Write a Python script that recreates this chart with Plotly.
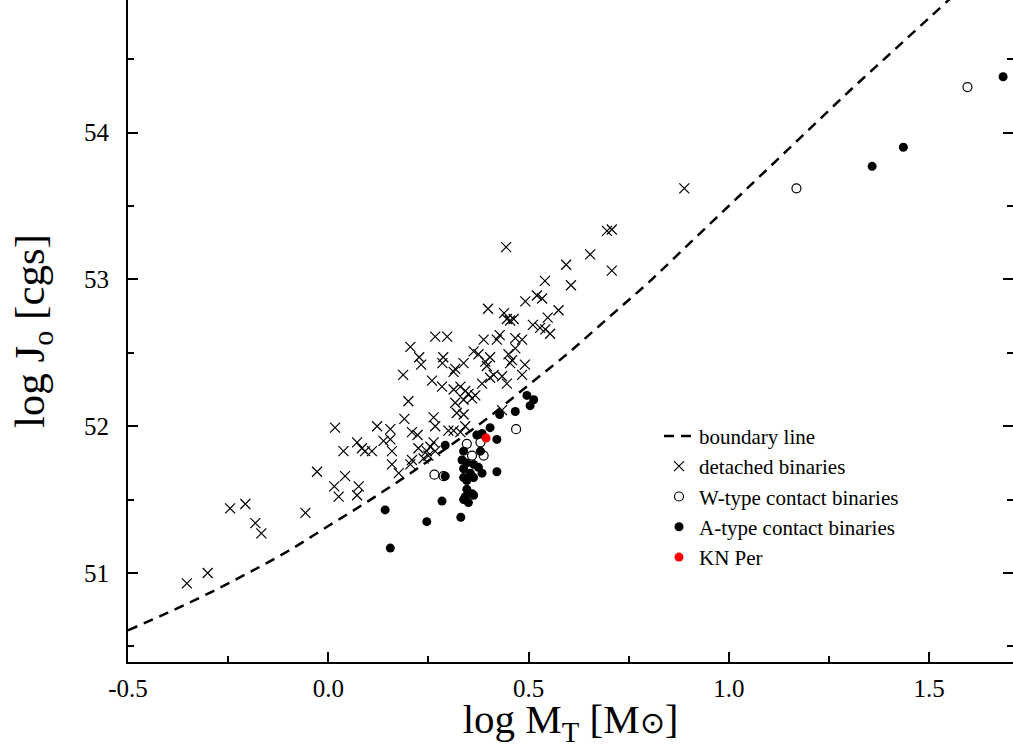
import plotly.graph_objects as go

# boundary line
bound_x = [-0.5, -0.4, -0.3, -0.2, -0.1, 0.0, 0.1, 0.2, 0.3, 0.4, 0.5, 0.6, 0.7, 0.8, 0.9, 1.0, 1.1, 1.2, 1.3, 1.4, 1.5, 1.6]
bound_y = [50.61, 50.73, 50.86, 51.00, 51.15, 51.32, 51.49, 51.67, 51.86, 52.06, 52.28, 52.50, 52.74, 52.98, 53.24, 53.50, 53.76, 54.02, 54.28, 54.53, 54.78, 55.03]

# detached binaries
det_x = [-0.353, -0.301, -0.245, -0.207, -0.182, -0.167, -0.057, -0.028,
         0.200, 0.190, 0.263, 0.267, 0.017, 0.122, 0.155, 0.300, 0.209, 0.223,
         0.072, 0.084, 0.092, 0.109, 0.138, 0.155, 0.159, 0.038, 0.225, 0.246,
         0.255, 0.263, 0.267, 0.238, 0.250, 0.209, 0.159, 0.176, 0.205, 0.042,
         0.015, 0.026, 0.076, 0.072,
         0.259, 0.284, 0.267, 0.297, 0.205, 0.227, 0.232, 0.287, 0.285, 0.187,
         0.444, 0.594, 0.541, 0.606, 0.492, 0.521, 0.534, 0.399, 0.575, 0.439,
         0.446, 0.454, 0.463, 0.548, 0.511, 0.529, 0.542, 0.554, 0.388, 0.428,
         0.421, 0.467, 0.484, 0.363, 0.375, 0.404, 0.392, 0.396, 0.450, 0.459,
         0.454, 0.467, 0.338, 0.317, 0.313, 0.491, 0.413, 0.434, 0.404, 0.484,
         0.313, 0.330, 0.342, 0.350, 0.367, 0.384, 0.446, 0.317, 0.338, 0.359,
         0.321, 0.338, 0.313, 0.330, 0.342, 0.434,
         0.889, 0.696, 0.708, 0.654, 0.708]
det_y = [50.93, 51.00, 51.44, 51.47, 51.34, 51.27, 51.41, 51.69,
         52.17, 52.05, 52.06, 52.00, 51.99, 52.00, 51.98, 51.97, 51.96, 51.94,
         51.89, 51.85, 51.83, 51.83, 51.90, 51.91, 51.83, 51.83, 51.85, 51.83,
         51.86, 51.89, 51.83, 51.78, 51.80, 51.77, 51.74, 51.68, 51.74, 51.66,
         51.59, 51.52, 51.59, 51.53,
         52.31, 52.27, 52.61, 52.61, 52.54, 52.47, 52.42, 52.47, 52.43, 52.35,
         53.22, 53.10, 52.99, 52.96, 52.85, 52.89, 52.87, 52.80, 52.79, 52.77,
         52.73, 52.72, 52.73, 52.74, 52.69, 52.67, 52.66, 52.63, 52.59, 52.62,
         52.59, 52.60, 52.59, 52.51, 52.49, 52.47, 52.44, 52.41, 52.49, 52.45,
         52.43, 52.53, 52.43, 52.39, 52.37, 52.42, 52.35, 52.34, 52.33, 52.35,
         52.25, 52.27, 52.24, 52.22, 52.21, 52.29, 52.29, 52.16, 52.18, 52.19,
         52.09, 52.08, 51.97, 51.96, 52.00, 52.11,
         53.62, 53.33, 53.34, 53.17, 53.06]

# W-type contact binaries
w_x = [0.346, 0.359, 0.388, 0.380, 0.265, 0.288, 0.469, 1.169, 1.596]
w_y = [51.88, 51.80, 51.80, 51.89, 51.67, 51.66, 51.98, 53.62, 54.31]

# A-type contact binaries
a_x = [0.292, 0.496, 0.513, 0.504, 0.467, 0.428, 0.384, 0.404, 0.421, 0.371,
       0.380, 0.338, 0.334, 0.346, 0.363, 0.338, 0.375, 0.384, 0.355, 0.338,
       0.346, 0.363, 0.421, 0.292, 0.346, 0.359, 0.342, 0.338, 0.350, 0.363,
       0.284, 0.142, 0.246, 0.331, 0.155, 1.358, 1.436, 1.685]
a_y = [51.87, 52.21, 52.18, 52.14, 52.10, 52.08, 51.95, 51.99, 51.91, 51.94,
       51.83, 51.83, 51.77, 51.75, 51.74, 51.71, 51.72, 51.68, 51.68, 51.65,
       51.63, 51.65, 51.69, 51.66, 51.57, 51.54, 51.52, 51.50, 51.48, 51.53,
       51.49, 51.43, 51.35, 51.38, 51.17, 53.77, 53.90, 54.38]

# KN Per
kn_x = [0.394]
kn_y = [51.92]

x_ticks = [-0.5, 0.0, 0.5, 1.0, 1.5]
x_ticktext = ["-0.5", "0.0", "0.5", "1.0", "1.5"]
y_ticks = [51, 52, 53, 54]

FONT = "Liberation Serif, Times New Roman, serif"

fig = go.Figure()
fig.add_trace(go.Scatter(x=bound_x, y=bound_y, mode="lines", name="boundary line",
                         line=dict(color="black", width=2.5, dash="10px,7px", shape="spline"),
                         legendgroup="a"))
fig.add_trace(go.Scatter(x=det_x, y=det_y, mode="markers", name="detached binaries",
                         marker=dict(symbol="x-thin-open", size=10, color="black",
                                     line=dict(width=1.2, color="black")),
                         legendgroup="b"))
fig.add_trace(go.Scatter(x=w_x, y=w_y, mode="markers", name="W-type contact binaries",
                         marker=dict(symbol="circle-open", size=9, color="black",
                                     line=dict(width=1.2, color="black")),
                         legendgroup="c"))
fig.add_trace(go.Scatter(x=a_x, y=a_y, mode="markers", name="A-type contact binaries",
                         marker=dict(symbol="circle", size=9, color="black"),
                         legendgroup="d"))
fig.add_trace(go.Scatter(x=kn_x, y=kn_y, mode="markers", name="KN Per",
                         marker=dict(symbol="circle", size=9, color="#ff0000"),
                         legendgroup="e"))

fig.update_layout(
    width=1013, height=748,
    margin=dict(l=128, r=0, t=0, b=86, autoexpand=False),
    paper_bgcolor="white", plot_bgcolor="white",
    font=dict(family=FONT, color="black", size=25),
    showlegend=True,
    legend=dict(x=0.6, y=0.372, xanchor="left", yanchor="top",
                bgcolor="rgba(0,0,0,0)", font=dict(family=FONT, size=21),
                traceorder="grouped", tracegroupgap=0),
)
fig.update_xaxes(
    range=[-0.5, 1.7097], tickvals=x_ticks, ticktext=x_ticktext,
    ticks="inside", ticklen=10, tickwidth=1.5, tickcolor="black",
    minor=dict(ticks="inside", ticklen=6, tickwidth=1.5, tickcolor="black", dtick=0.25, tick0=-0.5),
    showline=True, linewidth=2.2, linecolor="black", showgrid=False, zeroline=False,
    automargin=False,
    title=dict(text="log M<sub>T</sub> [M<span style=\"font-size:30px\">\u2299</span>]",
               font=dict(size=41, family=FONT), standoff=2),
    tickfont=dict(size=25, family=FONT), ticklabelstandoff=3,
)
fig.update_yaxes(
    range=[50.394, 54.903], tickvals=y_ticks,
    ticks="inside", ticklen=10, tickwidth=1.5, tickcolor="black",
    minor=dict(ticks="inside", ticklen=6, tickwidth=1.5, tickcolor="black", dtick=0.5, tick0=50.5),
    showline=True, linewidth=2.2, linecolor="black", mirror="ticks",
    showgrid=False, zeroline=False,
    automargin=False,
    title=dict(text="log J<sub>o</sub> [cgs]", font=dict(size=43, family=FONT), standoff=26),
    tickfont=dict(size=25, family=FONT), ticklabelstandoff=12,
)

fig.write_html("out.html", config={"displayModeBar": False},
               post_script="document.body.style.margin='0';document.body.style.overflow='hidden';")
